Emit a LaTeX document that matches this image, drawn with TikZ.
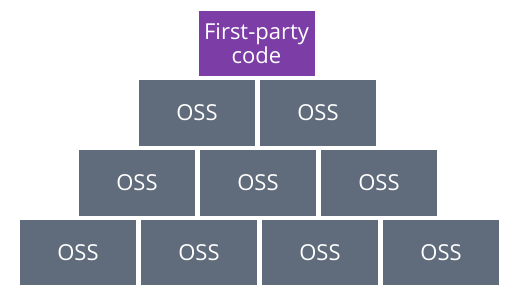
\documentclass[tikz,border=0pt]{standalone}
\usepackage{fontspec}
\setmainfont{Open Sans}
\definecolor{ossgrey}{RGB}{96,107,123}
\definecolor{fpurple}{RGB}{124,62,166}
\begin{document}
\begin{tikzpicture}[x=1pt,y=-1pt,
  brick/.style={fill=ossgrey,draw=none,minimum width=116pt,minimum height=65.5pt,
    inner sep=0pt,text=white,font=\fontsize{22pt}{24pt}\selectfont},
  topbrick/.style={brick,fill=fpurple,align=center}]
\useasboundingbox (0,0) rectangle (520,299);
\node[topbrick] (fp) at (256.5,43.5) {First-party\\code};
\node[brick] (a1) at (197,113) {OSS};
\node[brick] (a2) at (318,113) {OSS};
\node[brick] (b1) at (137,183) {OSS};
\node[brick] (b2) at (258,183) {OSS};
\node[brick] (b3) at (379,183) {OSS};
\node[brick] (c1) at (78,252.5) {OSS};
\node[brick] (c2) at (199,252.5) {OSS};
\node[brick] (c3) at (320,252.5) {OSS};
\node[brick] (c4) at (441,252.5) {OSS};
\end{tikzpicture}
\end{document}
